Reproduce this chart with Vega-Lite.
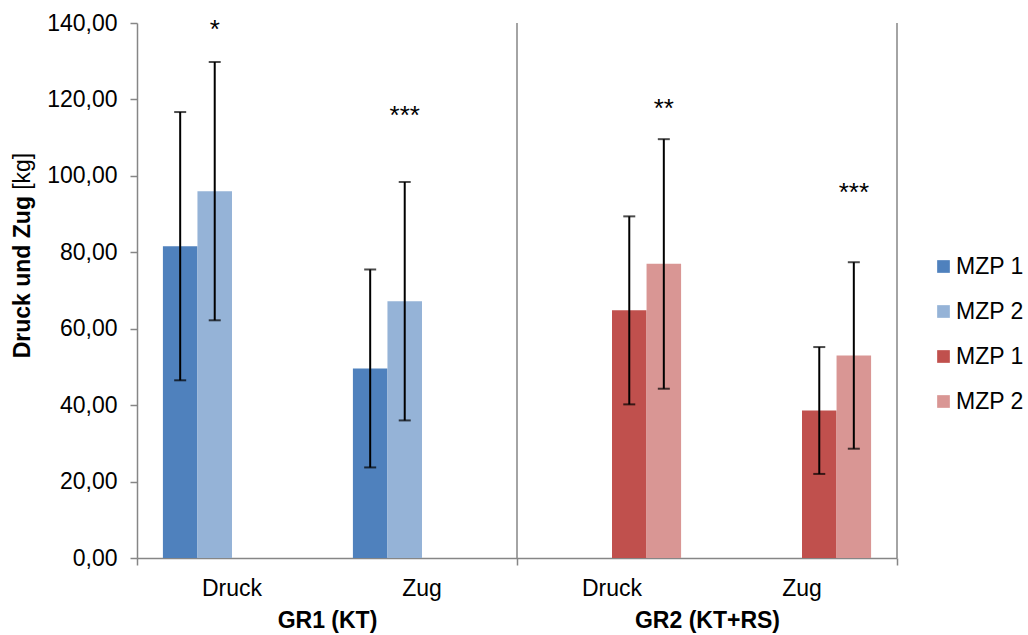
{
  "$schema": "https://vega.github.io/schema/vega-lite/v6.json",
  "width": 760,
  "height": 535,
  "autosize": "none",
  "padding": {"left": 137, "top": 23, "right": 131, "bottom": 77},
  "background": "white",
  "config": {
    "font": "Liberation Sans",
    "view": {"stroke": null},
    "axis": {"labelColor": "#000000", "titleColor": "#000000", "grid": false}
  },
  "datasets": {
    "bars": [
      {"cat": "GR1 Druck", "series": "GR1 MZP 1", "mean": 81.6, "lo": 46.5, "hi": 116.7},
      {"cat": "GR1 Druck", "series": "GR1 MZP 2", "mean": 96.0, "lo": 62.2, "hi": 129.8},
      {"cat": "GR1 Zug", "series": "GR1 MZP 1", "mean": 49.6, "lo": 23.7, "hi": 75.5},
      {"cat": "GR1 Zug", "series": "GR1 MZP 2", "mean": 67.2, "lo": 36.0, "hi": 98.4},
      {"cat": "GR2 Druck", "series": "GR2 MZP 1", "mean": 64.8, "lo": 40.2, "hi": 89.4},
      {"cat": "GR2 Druck", "series": "GR2 MZP 2", "mean": 77.0, "lo": 44.3, "hi": 109.6},
      {"cat": "GR2 Zug", "series": "GR2 MZP 1", "mean": 38.6, "lo": 22.0, "hi": 55.2},
      {"cat": "GR2 Zug", "series": "GR2 MZP 2", "mean": 53.0, "lo": 28.6, "hi": 77.4}
    ],
    "stars": [
      {"cat": "GR1 Druck", "series": "GR1 MZP 2", "label": "*", "y": 136.1},
      {"cat": "GR1 Zug", "series": "GR1 MZP 2", "label": "***", "y": 113.6},
      {"cat": "GR2 Druck", "series": "GR2 MZP 2", "label": "**", "y": 115.3},
      {"cat": "GR2 Zug", "series": "GR2 MZP 2", "label": "***", "y": 93.5}
    ],
    "groups": [
      {"group": "GR1 (KT)"},
      {"group": "GR2 (KT+RS)"}
    ]
  },
  "layer": [
    {
      "data": {"name": "bars"},
      "mark": {"type": "bar"},
      "encoding": {
        "x": {
          "field": "cat", "type": "nominal",
          "scale": {"type": "band", "domain": ["GR1 Druck", "GR1 Zug", "GR2 Druck", "GR2 Zug"], "paddingInner": 0, "paddingOuter": 0},
          "axis": {
            "orient": "bottom", "title": null,
            "labelExpr": "split(datum.label, ' ')[1]",
            "tickSize": 0, "tickOpacity": 0, "domainColor": "#868686", "domainWidth": 1.5,
            "labelFontSize": 23, "labelPadding": 19, "labelAngle": 0
          }
        },
        "xOffset": {
          "field": "series", "type": "nominal",
          "scale": {"type": "band", "domain": ["GR1 MZP 1", "GR1 MZP 2", "GR2 MZP 1", "GR2 MZP 2"], "paddingInner": 0, "paddingOuter": 0.75}
        },
        "y": {
          "field": "mean", "type": "quantitative",
          "scale": {"domain": [0, 140], "nice": false, "zero": true},
          "axis": {
            "orient": "left",
            "values": [0, 20, 40, 60, 80, 100, 120, 140],
            "labelExpr": "replace(format(datum.value, '.2f'), '.', ',')",
            "labelFontSize": 23, "labelPadding": 13,
            "tickSize": 7, "tickColor": "#868686", "tickWidth": 1.5,
            "domainColor": "#868686", "domainWidth": 1.5,
            "title": "Druck und Zug", "titleFontSize": 23, "titleFontWeight": "bold",
            "titleAngle": 270, "titleAlign": "center", "titleBaseline": "alphabetic",
            "titleX": -107.7, "titleY": 253.7
          }
        },
        "color": {
          "field": "series", "type": "nominal",
          "scale": {"domain": ["GR1 MZP 1", "GR1 MZP 2", "GR2 MZP 1", "GR2 MZP 2"], "range": ["#4F81BD", "#95B3D7", "#C0504D", "#D99694"]},
          "legend": {
            "orient": "none", "legendX": 795, "legendY": 232,
            "title": null, "padding": 0,
            "labelExpr": "substring(datum.label, 4)",
            "symbolType": "square", "symbolSize": 161, "symbolStrokeWidth": 0,
            "labelFontSize": 23, "labelOffset": 1, "rowPadding": 21, "labelColor": "#000000"
          }
        }
      }
    },
    {
      "data": {"name": "bars"},
      "mark": {"type": "rule", "color": "#000000", "strokeWidth": 2},
      "encoding": {
        "x": {"field": "cat", "type": "nominal", "scale": {"type": "band", "domain": ["GR1 Druck", "GR1 Zug", "GR2 Druck", "GR2 Zug"], "paddingInner": 0, "paddingOuter": 0}, "axis": null},
        "xOffset": {"field": "series", "type": "nominal", "scale": {"type": "band", "domain": ["GR1 MZP 1", "GR1 MZP 2", "GR2 MZP 1", "GR2 MZP 2"], "paddingInner": 0, "paddingOuter": 0.75}},
        "y": {"field": "lo", "type": "quantitative", "axis": null},
        "y2": {"field": "hi"}
      }
    },
    {
      "data": {"name": "bars"},
      "mark": {"type": "tick", "color": "#000000", "thickness": 2, "size": 12},
      "encoding": {
        "x": {"field": "cat", "type": "nominal", "scale": {"type": "band", "domain": ["GR1 Druck", "GR1 Zug", "GR2 Druck", "GR2 Zug"], "paddingInner": 0, "paddingOuter": 0}, "axis": null},
        "xOffset": {"field": "series", "type": "nominal", "scale": {"type": "band", "domain": ["GR1 MZP 1", "GR1 MZP 2", "GR2 MZP 1", "GR2 MZP 2"], "paddingInner": 0, "paddingOuter": 0.75}},
        "y": {"field": "lo", "type": "quantitative", "axis": null}
      }
    },
    {
      "data": {"name": "bars"},
      "mark": {"type": "tick", "color": "#000000", "thickness": 2, "size": 12},
      "encoding": {
        "x": {"field": "cat", "type": "nominal", "scale": {"type": "band", "domain": ["GR1 Druck", "GR1 Zug", "GR2 Druck", "GR2 Zug"], "paddingInner": 0, "paddingOuter": 0}, "axis": null},
        "xOffset": {"field": "series", "type": "nominal", "scale": {"type": "band", "domain": ["GR1 MZP 1", "GR1 MZP 2", "GR2 MZP 1", "GR2 MZP 2"], "paddingInner": 0, "paddingOuter": 0.75}},
        "y": {
          "field": "hi", "type": "quantitative",
          "axis": {
            "orient": "left", "labels": false, "ticks": false, "domain": false,
            "title": "[kg]", "titleFontSize": 23, "titleFontWeight": "normal",
            "titleAngle": 270, "titleAlign": "center", "titleBaseline": "alphabetic",
            "titleX": -107.7, "titleY": 147.8
          }
        }
      }
    },
    {
      "data": {"name": "stars"},
      "mark": {"type": "text", "fontSize": 26, "align": "center", "baseline": "alphabetic", "color": "#000000"},
      "encoding": {
        "x": {"field": "cat", "type": "nominal", "scale": {"type": "band", "domain": ["GR1 Druck", "GR1 Zug", "GR2 Druck", "GR2 Zug"], "paddingInner": 0, "paddingOuter": 0}, "axis": null},
        "xOffset": {"field": "series", "type": "nominal", "scale": {"type": "band", "domain": ["GR1 MZP 1", "GR1 MZP 2", "GR2 MZP 1", "GR2 MZP 2"], "paddingInner": 0, "paddingOuter": 0.75}},
        "y": {"field": "y", "type": "quantitative", "axis": null},
        "text": {"field": "label"}
      }
    },
    {
      "data": {"name": "groups"},
      "mark": {"type": "rule", "color": "#868686", "strokeWidth": 1.5},
      "encoding": {
        "x": {
          "field": "group", "type": "nominal", "bandPosition": 1,
          "scale": {"type": "band", "paddingInner": 0, "paddingOuter": 0},
          "axis": {
            "orient": "bottom", "title": null, "domain": false,
            "ticks": true, "tickBand": "extent", "tickSize": 7,
            "tickColor": "#868686", "tickWidth": 1.5,
            "labelFontSize": 23, "labelFontWeight": "bold", "labelPadding": 44, "labelAngle": 0
          }
        }
      }
    }
  ],
  "resolve": {"scale": {"x": "independent"}, "axis": {"x": "independent", "y": "independent"}}
}
